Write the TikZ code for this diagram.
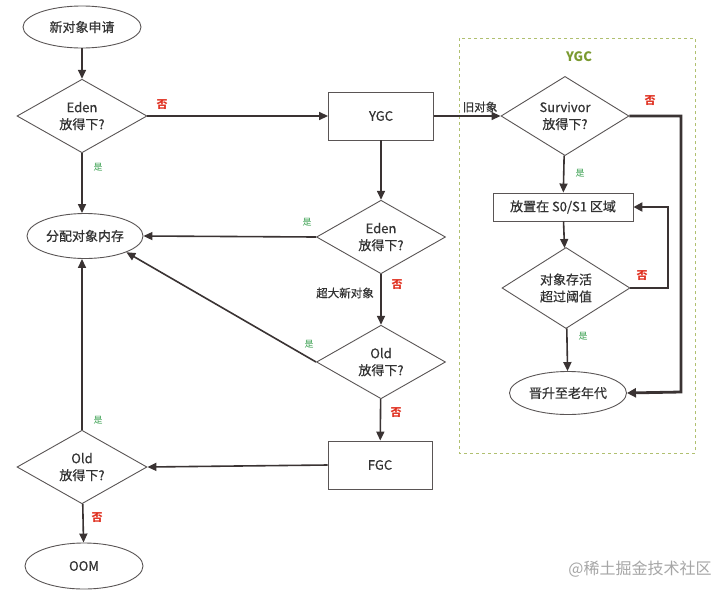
\documentclass[tikz,border=0pt]{standalone}
\usepackage{fontspec}
\setmainfont{Noto Sans CJK SC}
\newfontfamily\medfont{Noto Sans CJK SC}[FakeBold=0.6]
\usetikzlibrary{shapes.geometric,arrows.meta}
\definecolor{ln}{HTML}{3A3333}
\definecolor{shp}{HTML}{5A5555}
\definecolor{txt}{HTML}{333333}
\definecolor{yesc}{HTML}{3AA050}
\definecolor{noc}{HTML}{E03020}
\definecolor{grp}{HTML}{B0C070}
\definecolor{grpt}{HTML}{7A9A30}
\begin{document}
\begin{tikzpicture}[x=1pt,y=-1pt,
  every node/.style={text=txt},
  base/.style={font=\medfont\fontsize{13}{17}\selectfont},
  term/.style={base, ellipse, draw=shp, line width=0.9, inner sep=0, minimum width=118, minimum height=42},
  dec/.style={base, diamond, draw=shp, line width=0.9, inner sep=0, minimum width=130, minimum height=66, align=center},
  proc/.style={base, rectangle, draw=shp, line width=0.9, inner sep=0},
  arr/.style={draw=ln, line width=1.6, -{Triangle[length=9,width=8]}},
  tarr/.style={draw=ln, line width=2.8, -{Triangle[length=9,width=9]}},
  yes/.style={text=yesc, font=\fontsize{9}{10}\selectfont},
  no/.style={text=noc, font=\fontsize{11}{12}\selectfont\bfseries},
  lbl/.style={font=\medfont\fontsize{11.5}{12}\selectfont}
]
\useasboundingbox (0,0) rectangle (720,595);
\fill[white] (0,0) rectangle (720,595);

% group box
\draw[grp, dashed, line width=0.9] (459,38) rectangle (695,453);
\node[text=grpt, font=\fontsize{13}{14}\selectfont\bfseries] (gt) at (579,57) {YGC};

% nodes
\node[term] (start) at (82,27) {新对象申请};
\node[dec] (eden1) at (82,116) {Eden\\放得下?};
\node[term, minimum width=116, minimum height=45] (alloc) at (85,236) {分配对象内存};
\node[proc, minimum width=105, minimum height=48] (ygc) at (381,116) {YGC};
\node[dec, minimum width=129, minimum height=67] (eden2) at (381,237) {Eden\\放得下?};
\node[dec, minimum width=129, minimum height=65] (old2) at (381,362) {Old\\放得下?};
\node[proc, minimum width=104, minimum height=48] (fgc) at (380,465) {FGC};
\node[dec, minimum width=130, minimum height=66] (old1) at (82,467) {Old\\放得下?};
\node[term, minimum width=118, minimum height=46] (oom) at (84,566) {OOM};

\node[dec, minimum width=128, minimum height=67] (surv) at (565,116) {Survivor\\放得下?};
\node[proc, minimum width=140, minimum height=28] (s01) at (563,207) {放置在 S0/S1 区域};
\node[dec, minimum width=128, minimum height=67] (thr) at (566,288) {对象存活\\超过阈值};
\node[term, minimum width=117, minimum height=43] (prom) at (568,393) {晋升至老年代};

% connectors
\draw[arr] (start) -- (eden1);
\draw[arr] (eden1.south) -- (eden1.south |- alloc.north);
\draw[arr] (eden1.east) -- (ygc.west);
\draw[arr] (ygc) -- (eden2);
\draw[arr] (eden2.west) -- (alloc.east);
\draw[arr] (eden2) -- (old2);
\draw[arr] (old2.west) -- (alloc.south east);
\draw[arr] (old2) -- (fgc);
\draw[arr] (fgc.west) -- (old1.east);
\draw[arr] (old1.north) -- (old1.north |- alloc.south);
\draw[arr] (old1) -- (oom);
\draw[arr] (ygc.east) -- (surv.west);
\draw[arr] (surv) -- (s01);
\draw[arr] (s01) -- (thr);
\draw[arr] (thr) -- (prom);
\draw[tarr] (surv.east) -- (681,116) -- (681,392) -- (prom.east);
\draw[tarr] (thr.east) -- (668,288) -- (668,207) -- (s01.east);

% labels
\node[no] (n1) at (162,105) {否};
\node[yes] (y1) at (98,167) {是};
\node[yes] (y2) at (307,222) {是};
\node[lbl] (big) at (345,293) {超大新对象};
\node[no] (n2) at (397,285) {否};
\node[yes] (y3) at (309,344) {是};
\node[no] (n3) at (396,413) {否};
\node[yes] (y4) at (98,420) {是};
\node[no] (n4) at (97,518) {否};
\node[lbl] (old) at (480,107) {旧对象};
\node[no] (n5) at (650,101) {否};
\node[yes] (y5) at (580,173) {是};
\node[no] (n6) at (642,276) {否};
\node[yes] (y6) at (583,336) {是};

\node[text=gray!70, font=\fontsize{16}{17}\selectfont] (wm) at (640,569) {@稀土掘金技术社区};
\end{tikzpicture}
\end{document}
